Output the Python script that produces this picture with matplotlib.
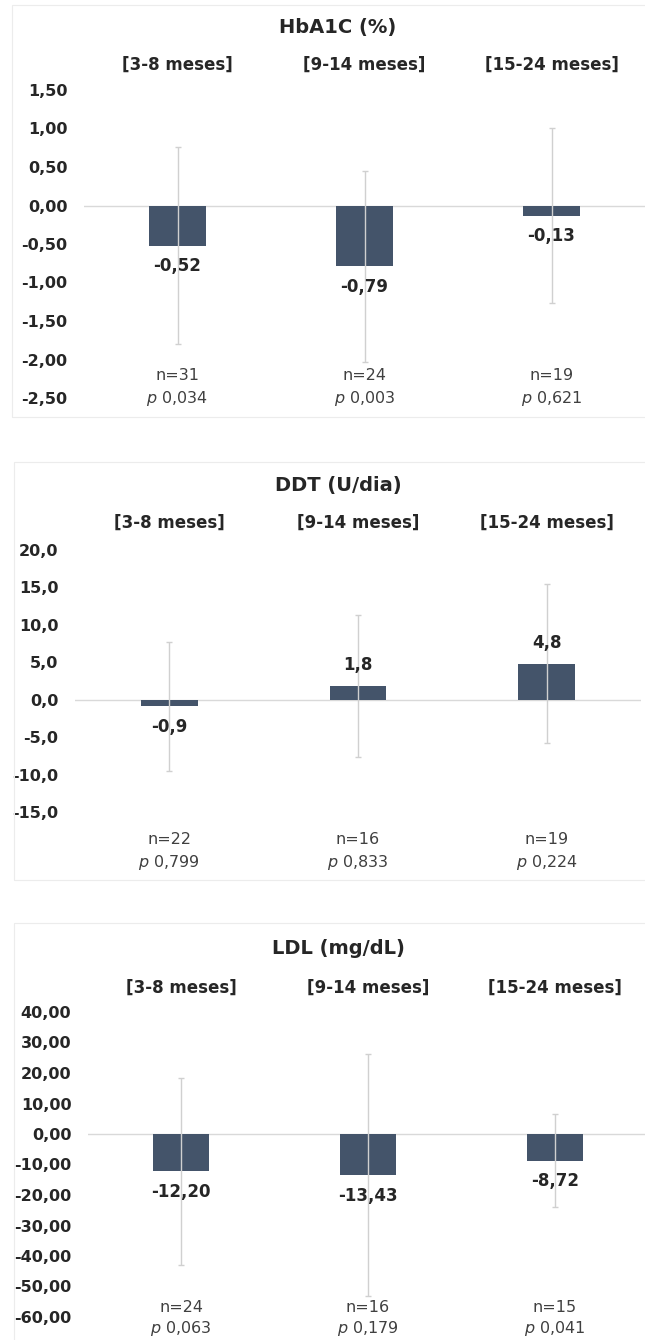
import matplotlib

matplotlib.use("Agg")

import matplotlib.pyplot as plt
import matplotlib.transforms as mtransforms
from matplotlib.patches import Rectangle
from matplotlib.ticker import FuncFormatter, MultipleLocator

plt.rcParams["font.family"] = ["DejaVu Sans"]
plt.rcParams["mathtext.fontset"] = "dejavusans"

W, H = 645, 1340
BAR_COLOR = "#44546a"
ERR_COLOR = "#d0d0d0"
TEXT_COLOR = "#262626"

groups = ["[3-8 meses]", "[9-14 meses]", "[15-24 meses]"]

hba1c_mean = [-0.52, -0.79, -0.13]
hba1c_sd = [1.28, 1.24, 1.14]
hba1c_n = [31, 24, 19]
hba1c_p = ["0,034", "0,003", "0,621"]

ddt_mean = [-0.9, 1.8, 4.8]
ddt_sd = [8.6, 9.5, 10.6]
ddt_n = [22, 16, 19]
ddt_p = ["0,799", "0,833", "0,224"]

ldl_mean = [-12.20, -13.43, -8.72]
ldl_sd = [30.6, 39.7, 15.2]
ldl_n = [24, 16, 15]
ldl_p = ["0,063", "0,179", "0,041"]


def fx(x):
    return x / W


def fy(y):
    return 1.0 - y / H


def comma(v, decimals):
    return f"{v:.{decimals}f}".replace(".", ",")


def draw_panel(fig, *, title, means, sds, ns, ps, ylim, step, decimals,
               box, frame, y_title, y_cat, y_n, y_p):
    left, top, right, bottom = box
    fig.patches.append(
        Rectangle((fx(frame[0]), fy(frame[3])), fx(frame[2] - frame[0]),
                  (frame[3] - frame[1]) / H, transform=fig.transFigure,
                  fill=False, edgecolor="#ececec", linewidth=0.8)
    )

    ax = fig.add_axes([fx(left), fy(bottom), fx(right - left), (bottom - top) / H])
    x = list(range(len(means)))
    ax.bar(x, means, width=0.3, color=BAR_COLOR, zorder=2)
    ax.errorbar(x, means, yerr=sds, fmt="none", ecolor=ERR_COLOR,
                elinewidth=1.0, capsize=2, capthick=1.0, zorder=3)
    ax.axhline(0, color="#d9d9d9", linewidth=1.0, zorder=1)

    ax.set_xlim(-0.5, len(means) - 0.5)
    ax.set_ylim(*ylim)
    ax.yaxis.set_major_locator(MultipleLocator(step))
    ax.yaxis.set_major_formatter(FuncFormatter(lambda v, _: comma(v, decimals)))
    ax.tick_params(axis="y", length=0, pad=12, labelsize=11.5, labelcolor=TEXT_COLOR)
    for lab in ax.get_yticklabels():
        lab.set_fontweight("bold")
    ax.set_xticks([])
    for s in ax.spines.values():
        s.set_visible(False)
    ax.patch.set_alpha(0)

    for xi, m in zip(x, means):
        off = -15 if m < 0 else 15
        ax.annotate(comma(m, decimals), (xi, m), xytext=(0, off),
                    textcoords="offset points", ha="center", va="center",
                    fontsize=12, fontweight="bold", color=TEXT_COLOR)

    trans = mtransforms.blended_transform_factory(ax.transData, fig.transFigure)
    fig.text(fx(338), fy(y_title), title, ha="center", va="center",
             fontsize=14, fontweight="bold", color=TEXT_COLOR)
    for xi, g, n, p in zip(x, groups, ns, ps):
        ax.text(xi, fy(y_cat), g, transform=trans, ha="center", va="center",
                fontsize=12, fontweight="bold", color=TEXT_COLOR, clip_on=False)
        ax.text(xi, fy(y_n), f"n={n}", transform=trans, ha="center", va="center",
                fontsize=11.5, color="#404040", clip_on=False)
        ax.text(xi, fy(y_p), r"$\it{p}$" + f" {p}", transform=trans, ha="center",
                va="center", fontsize=11.5, color="#404040", clip_on=False)
    return ax


fig = plt.figure(figsize=(W / 100, H / 100), dpi=100)

draw_panel(fig, title="HbA1C (%)", means=hba1c_mean, sds=hba1c_sd, ns=hba1c_n,
           ps=hba1c_p, ylim=(-2.5, 1.5), step=0.5, decimals=2,
           box=(84, 90, 645, 398), frame=(12, 5, 660, 417),
           y_title=27, y_cat=65, y_n=375, y_p=398)

draw_panel(fig, title="DDT (U/dia)", means=ddt_mean, sds=ddt_sd, ns=ddt_n,
           ps=ddt_p, ylim=(-15, 20), step=5, decimals=1,
           box=(75, 550, 641, 812), frame=(14, 462, 660, 880),
           y_title=485, y_cat=523, y_n=840, y_p=862)

draw_panel(fig, title="LDL (mg/dL)", means=ldl_mean, sds=ldl_sd, ns=ldl_n,
           ps=ldl_p, ylim=(-60, 40), step=10, decimals=2,
           box=(88, 1012, 648, 1317), frame=(14, 923, 660, 1360),
           y_title=948, y_cat=988, y_n=1308, y_p=1328)

fig.savefig("out.png", dpi=100)
plt.close(fig)
